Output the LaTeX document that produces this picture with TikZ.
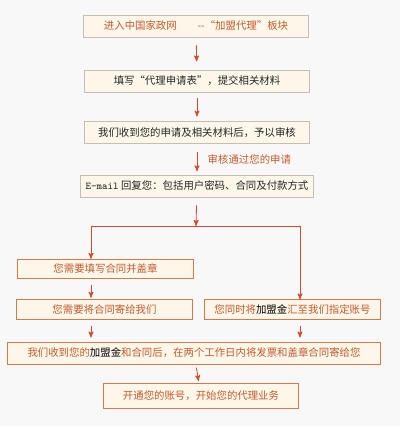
\documentclass[tikz,border=0pt]{standalone}
\usepackage{fontspec}
\setmainfont{Noto Sans CJK SC}
\usepackage{tikz}
\usetikzlibrary{shapes,arrows}
\definecolor{cream}{HTML}{FDF7EA}
\definecolor{greyline}{HTML}{C6BEB2}
\definecolor{orangeline}{HTML}{D9784C}
\definecolor{brown}{HTML}{C45A2C}
\definecolor{arrowred}{HTML}{D6492A}
\definecolor{paper}{HTML}{F8F8F8}
\tikzstyle{block} = [rectangle, fill=cream, draw=greyline, line width=0.7pt, text=black!85, font=\fontsize{7.4}{9}\selectfont]
\tikzstyle{oblock} = [block, draw=orangeline, line width=0.7pt, text=brown]
\tikzstyle{flow} = [->, draw=arrowred, line width=0.6pt]

\begin{document}
\begin{tikzpicture}[x=0.025cm, y=-0.025cm, >=stealth']

\useasboundingbox[fill=paper] (0,0) rectangle (400,426);

\node[block, text=brown, minimum width=5.6cm, minimum height=0.55cm] (apply) at (196,26) {进入中国家政网\qquad -{}-“加盟代理”板块};
\node[block, minimum width=5.6cm, minimum height=0.55cm] (form) at (197,81) {填写“代理申请表”，提交相关材料};
\node[block, minimum width=5.6cm, minimum height=0.53cm] (review) at (197,132.5) {我们收到您的申请及相关材料后，予以审核};
\node[block, minimum width=5.6cm, minimum height=0.55cm] (mail) at (197,186) {{\ttfamily E-mail} 回复您：包括用户密码、合同及付款方式};

\node[oblock, minimum width=4.375cm, minimum height=0.48cm] (sign) at (105.5,269) {您需要填写合同并盖章};
\node[oblock, minimum width=4.375cm, minimum height=0.48cm] (post) at (104.5,309.5) {您需要将合同寄给我们};
\node[oblock, minimum width=4.375cm, minimum height=0.48cm] (pay) at (292.5,309.5) {您同时将{\color{black}加盟金}汇至我们指定账号};
\node[oblock, minimum width=9.3cm, minimum height=0.55cm] (invoice) at (194,353) {我们收到您的{\color{black}加盟金}和合同后，在两个工作日内将发票和盖章合同寄给您};
\node[oblock, minimum width=4.85cm, minimum height=0.62cm] (open) at (201,396) {开通您的账号，开始您的代理业务};

\coordinate (fork) at (196,226);
\coordinate (forkL) at (91,226);
\coordinate (forkR) at (300,226);

\path
(apply) edge [flow, shorten <=0.2cm, shorten >=0.2cm] (form)
(form) edge [flow, shorten <=0.15cm, shorten >=0.12cm] (review)
(review) edge [flow, shorten <=0.22cm, shorten >=0.08cm] node [right, text=brown, font=\fontsize{7.4}{9}\selectfont, xshift=4pt] {审核通过您的申请} (mail)
(mail) edge [flow, shorten <=0.2cm] (fork)
(forkL) edge [flow, -] (forkR)
(forkL) edge [flow] (sign.north -| forkL)
(forkR) edge [flow] (pay.north -| forkR)
(sign.south -| forkL) edge [flow, shorten <=0.15cm, shorten >=0.04cm] (post.north -| forkL)
(post.south -| forkL) edge [flow, shorten <=0.15cm, shorten >=0.1cm] (invoice.north -| forkL)
(pay.south -| forkR) edge [flow, shorten <=0.15cm, shorten >=0.1cm] (invoice.north -| forkR)
(invoice) edge [flow, shorten <=0.08cm, shorten >=0.05cm] (open);

\end{tikzpicture}
\end{document}
